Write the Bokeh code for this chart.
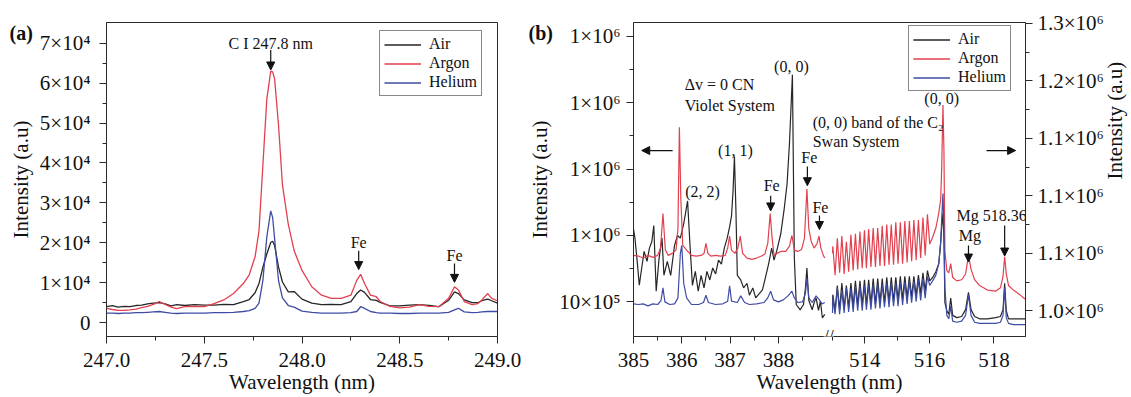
import math
from bokeh.plotting import figure
from bokeh.models import (Range1d, LinearAxis, FixedTicker, Label, Arrow,
                          NormalHead, Legend, LegendItem)
from bokeh.layouts import row
from bokeh.embed import file_html
from bokeh.resources import INLINE

# ---------------- data: panel (a) ----------------
wl_a = [247.00, 247.03, 247.06, 247.09, 247.12, 247.15, 247.18, 247.21, 247.24, 247.27,
        247.30, 247.33, 247.36, 247.40, 247.45, 247.50, 247.55, 247.60, 247.65, 247.70,
        247.73, 247.76, 247.78, 247.80, 247.82, 247.84, 247.85, 247.86, 247.88, 247.90,
        247.93, 247.96, 248.00, 248.05, 248.10, 248.15, 248.20, 248.25, 248.28, 248.30,
        248.32, 248.35, 248.38, 248.40, 248.45, 248.50, 248.55, 248.60, 248.65, 248.70,
        248.75, 248.78, 248.80, 248.83, 248.87, 248.90, 248.92, 248.95, 248.97, 249.00]
air_a = [4000, 4300, 3900, 4100, 4000, 4300, 4400, 4700, 4900, 5000,
         4700, 4200, 4500, 4300, 4500, 4400, 4400, 4600, 4500, 5300,
         5800, 7500, 9800, 13900, 17200, 20100, 20400, 19300, 13900, 10200,
         7700, 7800, 5900, 4900, 4500, 4600, 4500, 5300, 7300, 8200,
         7600, 5800, 5600, 5100, 4200, 4200, 4400, 4500, 4300, 4000,
         5600, 7700, 7300, 5700, 5000, 5000, 5500, 5900, 5500, 4900]
argon_a = [3600, 3300, 3100, 3100, 3200, 3400, 3800, 4100, 4600, 5300,
           4600, 3900, 3500, 4000, 4100, 4000, 4800, 5700, 7300, 9800,
           12000, 16500, 23000, 39500, 56000, 63000, 62800, 61000, 49400, 34500,
           24600, 18000, 13100, 9000, 6900, 6100, 6100, 6900, 10600, 12100,
           9800, 6900, 6500, 5300, 4100, 3700, 3900, 4500, 4100, 4000,
           6100, 9000, 8200, 5300, 4500, 4800, 5700, 7300, 6100, 5500]
helium_a = [2400, 2400, 2300, 2400, 2400, 2500, 2500, 2600, 2700, 2800,
            2600, 2400, 2300, 2400, 2400, 2400, 2500, 2500, 2600, 2800,
            3000, 3600, 4900, 10600, 21400, 28000, 26300, 21000, 10500, 6200,
            4300, 3900, 2900, 2600, 2400, 2400, 2400, 2500, 2800, 4000,
            3600, 2800, 2500, 2400, 2400, 2300, 2300, 2400, 2400, 2400,
            2600, 3200, 3600, 2700, 2500, 2600, 2700, 2800, 2800, 2800]

# ---------------- data: panel (b), CN violet region (left axis, x1e6) ----------------
wl_air_l = [385.00, 385.03, 385.08, 385.12, 385.17, 385.22, 385.28, 385.33, 385.38, 385.42,
            385.47, 385.53, 385.59, 385.63, 385.70, 385.77, 385.85, 385.91, 385.97, 386.04,
            386.12, 386.17, 386.22, 386.28, 386.34, 386.40, 386.46, 386.52, 386.58, 386.64,
            386.70, 386.76, 386.82, 386.88, 386.94, 386.99, 387.03, 387.06, 387.09, 387.12,
            387.15, 387.22, 387.28, 387.35, 387.40, 387.47, 387.53, 387.60, 387.67, 387.73,
            387.80, 387.86, 387.91, 387.97, 388.05, 388.12, 388.18, 388.23, 388.29, 388.33,
            388.37, 388.45, 388.52, 388.56, 388.59, 388.63, 388.70, 388.74, 388.78, 388.83,
            388.87, 388.91, 388.96]
air_l = [1.110, 1.096, 1.058, 1.025, 1.051, 1.076, 1.061, 1.081, 1.091, 1.115,
         1.016, 1.066, 1.096, 1.040, 1.061, 1.040, 1.085, 1.100, 1.096, 1.118,
         1.152, 1.085, 1.025, 1.046, 1.016, 1.040, 1.021, 1.046, 1.033, 1.051,
         1.042, 1.063, 1.057, 1.081, 1.096, 1.113, 1.130, 1.166, 1.219, 1.140,
         1.040, 1.033, 1.021, 1.028, 1.010, 1.021, 1.006, 1.012, 1.018, 1.036,
         1.058, 1.081, 1.063, 1.078, 1.103, 1.140, 1.178, 1.240, 1.342, 1.066,
         0.996, 0.988, 0.996, 1.021, 1.051, 1.002, 0.988, 0.999, 1.006, 0.987,
         1.001, 0.976, 0.981]

wl_ar_l = [385.00, 385.10, 385.20, 385.30, 385.40, 385.50, 385.56, 385.61, 385.66, 385.72,
           385.80, 385.88, 385.92, 385.95, 385.98, 386.02, 386.10, 386.20, 386.30, 386.40,
           386.46, 386.50, 386.54, 386.60, 386.70, 386.80, 386.90, 386.95, 386.99, 387.03,
           387.10, 387.16, 387.21, 387.26, 387.35, 387.45, 387.55, 387.65, 387.72, 387.78,
           387.83, 387.87, 387.91, 387.97, 388.05, 388.15, 388.23, 388.28, 388.33, 388.40,
           388.48, 388.54, 388.59, 388.63, 388.68, 388.74, 388.80, 388.84, 388.88, 388.93,
           388.96]
argon_l = [1.070, 1.069, 1.066, 1.070, 1.067, 1.070, 1.081, 1.133, 1.078, 1.070,
           1.073, 1.078, 1.110, 1.263, 1.155, 1.085, 1.078, 1.070, 1.069, 1.070,
           1.073, 1.088, 1.073, 1.069, 1.070, 1.069, 1.070, 1.081, 1.099, 1.078,
           1.073, 1.081, 1.099, 1.073, 1.066, 1.064, 1.066, 1.069, 1.072, 1.088,
           1.133, 1.096, 1.070, 1.073, 1.076, 1.076, 1.084, 1.100, 1.078, 1.076,
           1.079, 1.096, 1.170, 1.110, 1.091, 1.081, 1.088, 1.099, 1.081, 1.070,
           1.066]

wl_he_l = [385.00, 385.10, 385.20, 385.30, 385.40, 385.50, 385.57, 385.61, 385.65, 385.75,
           385.85, 385.92, 385.97, 386.00, 386.04, 386.10, 386.20, 386.35, 386.45, 386.50,
           386.55, 386.70, 386.85, 386.95, 386.99, 387.03, 387.15, 387.22, 387.30, 387.40,
           387.55, 387.70, 387.78, 387.84, 387.90, 388.00, 388.10, 388.20, 388.28, 388.33,
           388.40, 388.50, 388.56, 388.59, 388.63, 388.70, 388.78, 388.85, 388.90, 388.96]
helium_l = [0.997, 0.996, 0.997, 0.994, 0.997, 0.996, 1.002, 1.021, 1.000, 0.996,
            0.997, 1.006, 1.073, 1.085, 1.028, 1.006, 0.996, 0.996, 0.999, 1.010,
            0.999, 0.996, 0.997, 1.001, 1.024, 1.001, 0.999, 1.009, 0.999, 0.996,
            0.997, 0.999, 1.006, 1.016, 1.003, 1.000, 1.003, 1.009, 1.016, 1.006,
            0.999, 1.000, 1.013, 1.036, 1.006, 0.999, 1.009, 1.003, 0.997, 0.999]

# ---------------- data: panel (b), C2 Swan region (right axis, x1e6) ----------------
wl_r = [513.00, 513.01, 513.08, 513.15, 513.22, 513.29, 513.36, 513.43, 513.50, 513.57,
        513.64, 513.71, 513.78, 513.85, 513.92, 513.99, 514.05, 514.12, 514.19, 514.26,
        514.33, 514.40, 514.47, 514.54, 514.61, 514.68, 514.75, 514.82, 514.89, 514.96,
        515.03, 515.10, 515.17, 515.24, 515.31, 515.38, 515.45, 515.52, 515.59, 515.66,
        515.73, 515.80, 515.87, 515.94, 516.01, 516.10, 516.20, 516.29, 516.35, 516.38,
        516.42, 516.45, 516.48, 516.54, 516.60, 516.66, 516.72, 516.85, 517.00, 517.12,
        517.21, 517.29, 517.40, 517.55, 517.80, 518.05, 518.20, 518.28, 518.33, 518.38,
        518.45, 518.60, 518.80, 518.97]
air_r = [1.005, 1.014, 1.000, 1.022, 1.001, 1.024, 1.002, 1.022, 1.003, 1.024,
         1.004, 1.026, 1.005, 1.026, 1.005, 1.027, 1.005, 1.027, 1.006, 1.028,
         1.006, 1.028, 1.007, 1.028, 1.007, 1.029, 1.008, 1.029, 1.008, 1.029,
         1.009, 1.030, 1.010, 1.030, 1.011, 1.030, 1.012, 1.030, 1.013, 1.031,
         1.015, 1.033, 1.017, 1.035, 1.026, 1.029, 1.034, 1.041, 1.059, 1.072,
         1.085, 1.063, 1.007, 1.000, 0.997, 1.011, 0.996, 0.994, 0.995, 1.001,
         1.016, 1.001, 0.995, 0.993, 0.993, 0.994, 0.995, 1.001, 1.024, 1.000,
         0.993, 0.993, 0.993, 0.993]
argon_r = [1.050, 1.056, 1.031, 1.063, 1.033, 1.065, 1.032, 1.060, 1.034, 1.066,
           1.035, 1.067, 1.036, 1.069, 1.037, 1.070, 1.037, 1.071, 1.038, 1.072,
           1.038, 1.072, 1.039, 1.074, 1.039, 1.075, 1.040, 1.075, 1.040, 1.077,
           1.041, 1.077, 1.041, 1.078, 1.042, 1.078, 1.043, 1.079, 1.044, 1.079,
           1.046, 1.081, 1.048, 1.084, 1.058, 1.064, 1.072, 1.085, 1.097, 1.123,
           1.179, 1.140, 1.052, 1.035, 1.033, 1.041, 1.029, 1.026, 1.027, 1.032,
           1.048, 1.036, 1.027, 1.022, 1.018, 1.017, 1.020, 1.030, 1.047, 1.032,
           1.022, 1.018, 1.014, 1.010]
helium_r = [0.998, 1.011, 0.997, 1.020, 0.997, 1.018, 0.998, 1.020, 0.999, 1.019,
            0.999, 1.021, 1.000, 1.022, 1.000, 1.022, 1.001, 1.022, 1.001, 1.023,
            1.002, 1.023, 1.002, 1.023, 1.003, 1.024, 1.003, 1.024, 1.004, 1.024,
            1.004, 1.025, 1.005, 1.025, 1.006, 1.026, 1.007, 1.026, 1.008, 1.027,
            1.009, 1.028, 1.011, 1.030, 1.022, 1.026, 1.031, 1.041, 1.060, 1.080,
            1.102, 1.072, 1.020, 0.996, 0.993, 1.004, 0.991, 0.990, 0.991, 0.996,
            1.014, 0.996, 0.990, 0.989, 0.989, 0.989, 0.990, 0.996, 1.020, 0.994,
            0.989, 0.988, 0.988, 0.988]

series_names = ["Air", "Argon", "Helium"]
a_ticks = [247.0, 247.5, 248.0, 248.5, 249.0]
a_minor = [247.25, 247.75, 248.25, 248.75]
a_yticks = [0, 10000, 20000, 30000, 40000, 50000, 60000, 70000]
a_ylabels = ["0", "1×10⁴", "2×10⁴", "3×10⁴", "4×10⁴", "5×10⁴", "6×10⁴", "7×10⁴"]
b_ticks_w = [385, 386, 387, 388, 514, 516, 518]
b_minor_w = [385.5, 386.5, 387.5, 388.5, 513, 515, 517]
b_lticks = [1.0, 1.1, 1.2, 1.3, 1.4]
b_llabels = ["10×10⁵", "1×10⁶", "1×10⁶", "1×10⁶", "1×10⁶"]
b_rticks = [1.0, 1.05, 1.1, 1.15, 1.2, 1.25]
b_rlabels = ["1.0×10⁶", "1.1×10⁶", "1.1×10⁶", "1.1×10⁶", "1.2×10⁶", "1.3×10⁶"]

# ---------------- style ----------------
FONT = "Liberation Serif"
COLORS = ["#262626", "#e2404e", "#3f4ca3"]
AX = "#2a2a2a"
FH = 314
LEG_H = 64


def xmap(w):
    # broken wavelength axis: 385-389 nm, then 513-519 nm compressed
    return (w - 385.0) if w < 450 else 4.12 + (w - 513.0) * (32.3 / 48.3)


def style_axis(ax, standoff, title_standoff=0):
    ax.axis_line_color = AX
    ax.major_tick_line_color = AX
    ax.minor_tick_line_color = AX
    ax.major_tick_in = 0
    ax.major_tick_out = 7
    ax.minor_tick_in = 0
    ax.minor_tick_out = 4
    ax.major_label_text_font = FONT
    ax.major_label_text_font_size = "21px"
    ax.major_label_text_color = "#111111"
    ax.major_label_standoff = standoff
    ax.axis_label_text_font = FONT
    ax.axis_label_text_font_size = "21px"
    ax.axis_label_text_font_style = "normal"
    ax.axis_label_text_color = "#111111"
    ax.axis_label_standoff = title_standoff


def txt(x, y, s, align="center", size="16px", **kw):
    return Label(x=x, y=y, text=s, text_font=FONT, text_font_size=size,
                 text_align=align, text_baseline="middle", text_color="#111111", **kw)


def arrow(x0, y0, x1, y1):
    return Arrow(end=NormalHead(size=8, fill_color="#111111", line_color="#111111"),
                 x_start=x0, y_start=y0, x_end=x1, y_end=y1,
                 line_color="#111111", line_width=1.2)


def make_legend(renderers, loc):
    items = [LegendItem(label=n, renderers=r) for n, r in zip(series_names, renderers)]
    leg = Legend(items=items, location=loc)
    leg.label_text_font = FONT
    leg.label_text_font_size = "16px"
    leg.label_text_color = "#111111"
    leg.glyph_width = 37
    leg.glyph_height = 17
    leg.label_height = 17
    leg.label_standoff = 8
    leg.spacing = 1
    leg.padding = 4
    leg.margin = 0
    leg.border_line_color = "#111111"
    leg.border_line_width = 1.5
    leg.background_fill_alpha = 1.0
    return leg


def panel_tag(p, text, x, y):
    # panel letter as a canvas-positioned label living in the top side panel
    p.add_layout(Label(x=x, y=y, x_units="canvas", y_units="canvas", text=text,
                       text_font=FONT, text_font_size="20px", text_font_style="bold",
                       text_align="left", text_baseline="middle",
                       text_color="#111111"), "above")

# ---------------- panel (a) ----------------
pa = figure(frame_width=391, frame_height=FH, min_border_left=106, min_border_right=28,
            min_border_top=22, min_border_bottom=0,
            x_range=Range1d(247.0, 249.0), y_range=Range1d(-3460, 75190),
            output_backend="svg", toolbar_location=None, tools="")
pa.grid.visible = False
pa.outline_line_color = AX
pa.background_fill_color = "white"

ra = []
for ys, c in zip([air_a, argon_a, helium_a], COLORS):
    ra.append([pa.line(wl_a, ys, line_color=c, line_width=1.3)])

xa = pa.xaxis[0]
style_axis(xa, 9, 0)
xa.ticker = FixedTicker(ticks=a_ticks, minor_ticks=a_minor)
xa.major_label_overrides = {t: f"{t:.1f}" for t in a_ticks}
xa.axis_label = "Wavelength (nm)"
ya = pa.yaxis[0]
style_axis(ya, 9, 4)
ya.ticker = FixedTicker(ticks=a_yticks, minor_ticks=[t + 5000 for t in a_yticks[:-1]])
ya.major_label_overrides = dict(zip(a_yticks, a_ylabels))
ya.axis_label = "Intensity (a.u)"

pa.add_layout(make_legend(ra, (273, FH - 10 - LEG_H)))

pa.add_layout(txt(247.84, 70000, "C I 247.8 nm"))
pa.add_layout(arrow(247.84, 68300, 247.84, 63300))
pa.add_layout(txt(248.29, 20000, "Fe"))
pa.add_layout(arrow(248.29, 18000, 248.29, 13300))
pa.add_layout(txt(248.78, 16800, "Fe"))
pa.add_layout(arrow(248.78, 14800, 248.78, 10100))
panel_tag(pa, "(a)", 9, 32)

# ---------------- panel (b) ----------------
pb = figure(frame_width=392, frame_height=FH, min_border_left=104, min_border_right=110,
            min_border_top=22, min_border_bottom=0,
            x_range=Range1d(0, 8.116), y_range=Range1d(0.9478, 1.4209),
            output_backend="svg", toolbar_location=None, tools="")
pb.extra_y_ranges = {"right": Range1d(0.9776, 1.2508)}
pb.grid.visible = False
pb.outline_line_color = AX
pb.background_fill_color = "white"

rb = []
left_sets = [(wl_air_l, air_l), (wl_ar_l, argon_l), (wl_he_l, helium_l)]
right_sets = [air_r, argon_r, helium_r]
for (wl, ys), yr, c in zip(left_sets, right_sets, COLORS):
    l1 = pb.line([xmap(w) for w in wl], ys, line_color=c, line_width=1.2)
    l2 = pb.line([xmap(w) for w in wl_r], yr, line_color=c, line_width=1.2,
                 y_range_name="right")
    rb.append([l1, l2])

xb = pb.xaxis[0]
style_axis(xb, 9, 0)
xb.ticker = FixedTicker(ticks=[xmap(w) for w in b_ticks_w],
                        minor_ticks=[xmap(w) for w in b_minor_w])
xb.major_label_overrides = {xmap(w): str(w) for w in b_ticks_w}
xb.axis_label = "Wavelength (nm)"
yb = pb.yaxis[0]
style_axis(yb, 6, 4)
yb.ticker = FixedTicker(ticks=b_lticks, minor_ticks=[t + 0.05 for t in b_lticks])
yb.major_label_overrides = dict(zip(b_lticks, b_llabels))
yb.axis_label = "Intensity (a.u)"
yr_ax = LinearAxis(y_range_name="right")
style_axis(yr_ax, 5, 8)
yr_ax.ticker = FixedTicker(ticks=b_rticks, minor_ticks=[t + 0.025 for t in b_rticks[:-1]])
yr_ax.major_label_overrides = dict(zip(b_rticks, b_rlabels))
yr_ax.axis_label = "Intensity (a.u)"
if "axis_label_orientation" in yr_ax.properties():
    yr_ax.axis_label_orientation = math.pi / 2
pb.add_layout(yr_ax, "right")

pb.add_layout(make_legend(rb, (275, FH - 5 - LEG_H)))

pb.add_layout(txt(xmap(386.06), 1.328, "Δv = 0 CN", align="left"))
pb.add_layout(txt(xmap(386.06), 1.296, "Violet System", align="left"))
pb.add_layout(txt(xmap(388.27), 1.354, "(0, 0)"))
pb.add_layout(txt(xmap(387.11), 1.228, "(1, 1)"))
pb.add_layout(txt(xmap(386.43), 1.166, "(2, 2)"))
pb.add_layout(arrow(xmap(385.81), 1.228, xmap(385.17), 1.228))
pb.add_layout(txt(xmap(387.86), 1.176, "Fe"))
pb.add_layout(arrow(xmap(387.84), 1.160, xmap(387.84), 1.137))
pb.add_layout(txt(xmap(388.64), 1.218, "Fe"))
pb.add_layout(arrow(xmap(388.60), 1.204, xmap(388.60), 1.175))
pb.add_layout(txt(xmap(388.87), 1.142, "Fe"))
pb.add_layout(arrow(xmap(388.85), 1.130, xmap(388.85), 1.109))
pb.add_layout(txt(xmap(388.71), 1.270, "(0, 0) band of the C₂", align="left"))
pb.add_layout(txt(xmap(388.71), 1.242, "Swan System", align="left"))
pb.add_layout(txt(xmap(516.38), 1.306, "(0, 0)"))
pb.add_layout(arrow(xmap(517.77), 1.228, xmap(518.67), 1.228))
pb.add_layout(txt(xmap(517.93), 1.130, "Mg 518.36"))
pb.add_layout(arrow(xmap(518.33), 1.115, xmap(518.33), 1.069))
pb.add_layout(txt(xmap(517.25), 1.100, "Mg"))
pb.add_layout(arrow(xmap(517.21), 1.085, xmap(517.21), 1.060))
pb.add_layout(Label(x=(xmap(388.96) + xmap(513.0)) / 2, y=0, y_units="screen", text="//",
                    text_font=FONT, text_font_size="18px", text_align="center",
                    text_baseline="middle", text_color="#111111",
                    background_fill_color="white"))
panel_tag(pb, "(b)", 3, 32)

layout = row(pa, pb)
open("out.html", "w").write(file_html(layout, INLINE))
